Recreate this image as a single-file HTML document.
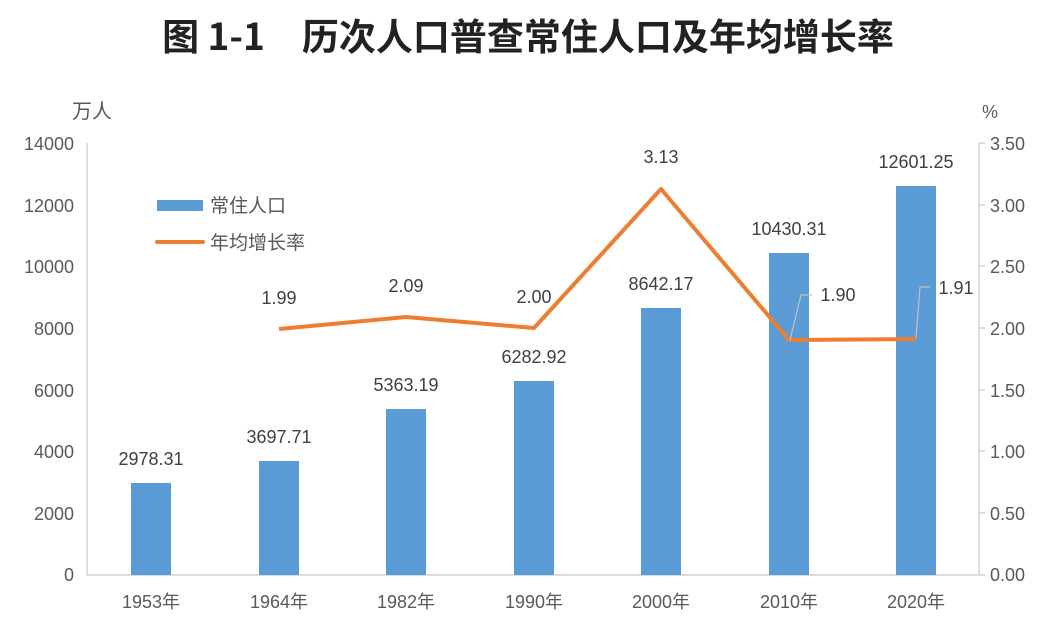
<!DOCTYPE html>
<html><head><meta charset="utf-8"><style>
html,body{margin:0;padding:0;background:#fff;}
svg{display:block;font-family:"Liberation Sans","Noto Sans CJK SC",sans-serif;}
</style></head><body>
<svg width="1056" height="640" viewBox="0 0 1056 640" xmlns="http://www.w3.org/2000/svg">
<rect width="1056" height="640" fill="#fff"/>
<text x="528" y="50" text-anchor="middle" font-size="37" font-weight="bold" fill="#222" font-family="'Noto Sans CJK SC',sans-serif">图 1-1　历次人口普查常住人口及年均增长率</text>
<g fill="#595959" font-size="18">
<text x="92" y="118" text-anchor="middle" font-size="20" font-family="'Noto Sans CJK SC',sans-serif">万人</text>
<text x="990" y="118" text-anchor="middle" font-size="18">%</text>
<g text-anchor="end">
<text x="74" y="150">14000</text><text x="74" y="212">12000</text><text x="74" y="273">10000</text>
<text x="74" y="335">8000</text><text x="74" y="397">6000</text><text x="74" y="458">4000</text>
<text x="74" y="520">2000</text><text x="74" y="581">0</text>
</g>
<g text-anchor="start">
<text x="990" y="150">3.50</text><text x="990" y="212">3.00</text><text x="990" y="273">2.50</text>
<text x="990" y="335">2.00</text><text x="990" y="397">1.50</text><text x="990" y="458">1.00</text>
<text x="990" y="520">0.50</text><text x="990" y="581">0.00</text>
</g>
</g>
<line x1="87" y1="143" x2="87" y2="575" stroke="#d0d0d0" stroke-width="1.5"/>
<line x1="87" y1="575" x2="980" y2="575" stroke="#d0d0d0" stroke-width="1.5"/>
<line x1="979" y1="143" x2="979" y2="575" stroke="#d0d0d0" stroke-width="1.5"/>
<g stroke="#d0d0d0" stroke-width="1.5">
<line x1="979" y1="143" x2="985" y2="143"/><line x1="979" y1="205" x2="985" y2="205"/><line x1="979" y1="266" x2="985" y2="266"/>
<line x1="979" y1="328" x2="985" y2="328"/><line x1="979" y1="390" x2="985" y2="390"/><line x1="979" y1="451" x2="985" y2="451"/>
<line x1="979" y1="513" x2="985" y2="513"/><line x1="979" y1="575" x2="985" y2="575"/>
</g>
<g fill="#5b9bd5">
<rect x="131" y="483" width="40" height="92"/>
<rect x="259" y="461" width="40" height="114"/>
<rect x="386" y="409" width="40" height="166"/>
<rect x="514" y="381" width="40" height="194"/>
<rect x="641" y="308" width="40" height="267"/>
<rect x="769" y="253" width="40" height="322"/>
<rect x="896" y="186" width="40" height="389"/>
</g>
<polyline points="279,329 406,317 534,328 661,189 789,340 916,339" fill="none" stroke="#ed7d31" stroke-width="4" stroke-linejoin="round"/>
<polyline points="790,340 801,295 812,295" fill="none" stroke="#bfbfbf" stroke-width="1.2"/>
<polyline points="916,338 920,287 930,287" fill="none" stroke="#bfbfbf" stroke-width="1.2"/>
<g fill="#404040" font-size="18" text-anchor="middle">
<text x="151" y="465">2978.31</text><text x="279" y="443">3697.71</text><text x="406" y="391">5363.19</text>
<text x="534" y="363">6282.92</text><text x="661" y="290">8642.17</text><text x="789" y="235">10430.31</text>
<text x="916" y="168">12601.25</text>
<text x="279" y="304">1.99</text><text x="406" y="292">2.09</text><text x="534" y="303">2.00</text>
<text x="661" y="163">3.13</text>
<text x="838" y="301">1.90</text><text x="956" y="294">1.91</text>
</g>
<g fill="#595959" font-size="18" text-anchor="middle">
<text x="151" y="608">1953年</text><text x="279" y="608">1964年</text><text x="406" y="608">1982年</text>
<text x="534" y="608">1990年</text><text x="661" y="608">2000年</text><text x="789" y="608">2010年</text>
<text x="916" y="608">2020年</text>
</g>
<rect x="157" y="200" width="46" height="11" fill="#5b9bd5"/>
<line x1="157" y1="242" x2="203" y2="242" stroke="#ed7d31" stroke-width="4" stroke-linecap="round"/>
<g fill="#595959" font-size="19" font-family="'Noto Sans CJK SC',sans-serif">
<text x="210" y="212">常住人口</text>
<text x="210" y="249">年均增长率</text>
</g>
</svg>
</body></html>
